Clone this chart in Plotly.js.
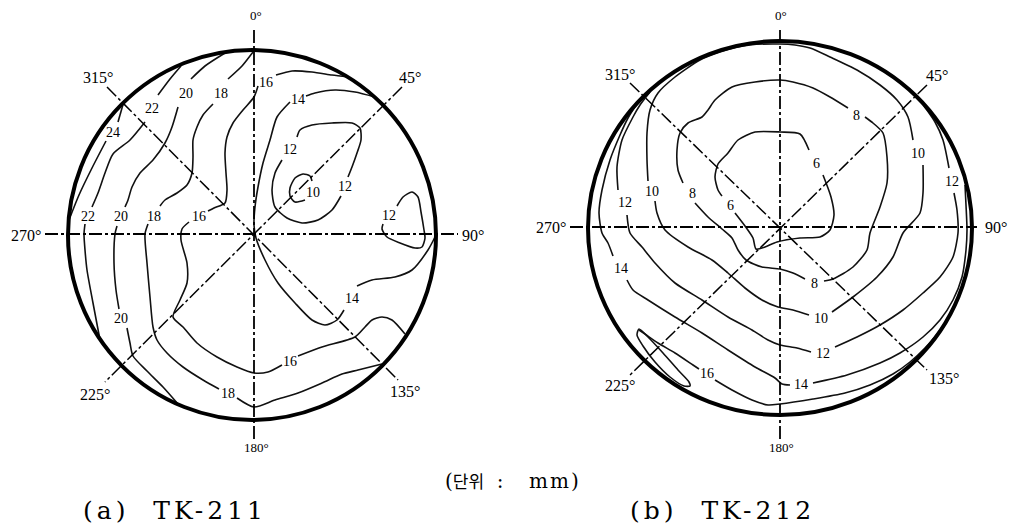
<!DOCTYPE html>
<html><head><meta charset="utf-8">
<script src="https://cdn.plot.ly/plotly-3.0.1.min.js"></script>
<style>html,body{margin:0;padding:0;background:#fff}#chart{width:1014px;height:525px}</style>
</head><body><div id="chart"></div>
<script>
// ---- DATA: contour lines ([x,y]; null = gap where a label sits) ----
// TK-211
const tk211_c24 = [[124,101],[118,122],null,[106,141],[92,168],[79,195],[69,220]];
const tk211_c22 = [[181,66],[170,79],[158,95],null,[145,122],[130,140],[113,154],[105,173],[98,193],[92,207],null,[85,224],[84,234],[85,250],[87,270],[93,303],[100,340]];
const tk211_c20 = [[225,53],[205,66],[191,79],null,[178,107],[172,127],[165,143],[153,160],[140,173],[132,187],[128,200],[125,207],null,[117,226],[115,234],[114,263],[116,290],[119,309],null,[127,328],[130,343],[133,356],[147,371],[163,387],[178,404]];
const tk211_c18 = [[253,52],[242,66],[228,79],null,[213,104],[203,115],[197,127],[193,140],[193,157],[192,173],[187,185],[177,193],[165,200],[160,206],null,[148,224],[145,234],[147,263],[150,297],[153,327],[157,340],[167,353],[183,367],[203,380],[219,389],null,[237,398],[254,407],[275,400],[298,393],[322,383],[342,374],[358,370],[382,364]];
const tk211_c16 = [[348,77],[332,75],[312,72],[292,71],[276,75],null,[258,86],[254,97],[243,110],[233,123],[227,137],[225,153],[226,173],[227,190],[225,203],[214,208],[208,211],null,[189,222],[182,229],[181,240],[187,263],[187,283],[180,300],[173,317],[183,327],[197,343],[217,357],[237,367],[254,373],[268,372],[282,365],null,[298,356],[322,347],[355,337],[365,327],[372,320],[382,317],[392,320],[405,334]];
const tk211_c14 = [[375,97],[355,92],[335,90],[315,93],[306,96],null,[290,102],[277,117],[270,140],[263,163],[258,187],[255,207],[254,225],[256,238],[265,260],[278,283],[295,303],[312,320],[325,325],[337,320],[344,310],null,[357,286],[372,280],[395,277],[412,270],[428,250],[436,235]];
const tk211_c12a = [[297,137],[300,130],[312,125],[332,123],[352,123],[360,128],[361,140],[357,153],[352,167],[348,177],null,[341,196],[332,210],[318,220],[302,223],[287,218],[275,207],[272,190],[275,173],[282,160]];
const tk211_c10 = [[312,181],[310,176],[303,174],[295,178],[290,188],[290,196],[295,202],[305,200]];
const tk211_c12b = [[397,206],[403,197],[412,192],[418,197],[421,212],[424,230],[425,238],[422,247],[415,248],[400,243],[387,237],[382,229],[383,224]];
const tk211_labels = [[113,132,'24'],[152,108,'22'],[186,93,'20'],[221,93,'18'],[266,82,'16'],[298,99,'14'],[290,149,'12'],[345,186,'12'],[313,192,'10'],[389,215,'12'],[88,216,'22'],[121,216,'20'],[154,216,'18'],[199,216,'16'],[121,318,'20'],[228,393,'18'],[290,361,'16'],[352,298,'14']];

// TK-212
const tk212_c6 = [[735,213],[745,226],[753,238],[756,249],[765,247],[777,242],[800,238],[820,237],[830,230],[834,215],[831,197],[823,175],null,[809,150],[800,134],[780,132],[755,132],[738,140],[728,153],[718,164],[715,177],[718,190],[722,196]];
const tk212_c8 = [[695,203],[708,217],[722,229],[732,238],[738,250],[746,260],[762,267],[780,269],[793,273],[805,279],null,[824,281],[833,279],[853,267],[867,250],[870,233],[880,207],[887,183],[887,157],[883,133],[873,123],[865,117],null,[848,108],[830,97],[813,88],[793,82],[780,80],[755,82],[732,87],[715,100],[708,110],[702,117],[688,123],[680,133],[677,150],[678,170],[683,183]];
const tk212_c10 = [[655,201],[657,213],[665,230],[688,247],[712,260],[728,273],[745,288],[762,300],[778,307],[793,310],[809,315],null,[832,312],[853,297],[877,277],[893,257],[903,233],[920,213],[923,193],[923,165],null,[913,140],[908,117],[897,100],[880,85],[857,70],[830,57],[810,48],[795,45],[780,44],[750,45],[720,52],[700,60],[675,77],[658,93],[650,110],[647,133],[647,160],[648,181]];
const tk212_c12 = [[650,92],[640,105],[633,117],[622,140],[617,167],[618,190],null,[627,215],[630,233],[642,247],[655,263],[675,283],[702,300],[728,317],[752,330],[768,340],[780,345],[797,348],[811,352],null,[835,347],[857,337],[880,325],[903,310],[923,293],[940,277],[953,257],[958,233],[957,210],[954,193],null,[949,168],[943,140],[935,122],[924,106]];
const tk212_c14 = [[638,102],[628,118],[620,135],[610,160],[602,190],[599,213],[602,233],[608,243],[613,256],null,[627,280],[633,290],[648,300],[675,317],[702,333],[728,350],[755,367],[775,378],[782,384],[790,385],null,[813,383],[847,375],[880,363],[900,353],[923,337],[940,320],[953,300],[962,277],[966,250],[967,230],[966,205],[965,185]];
const tk212_c16 = [[639,330],[645,334],[658,343],[675,353],[693,365],[699,369],null,[715,380],[732,390],[752,400],[768,405],[780,404],[813,399],[845,393],[870,385],[893,374],[910,362],[925,348],[938,333],[946,322]];
const tk212_c16loop = [[639,329],[648,337],[663,353],[678,370],[689,382],[690,386],[684,386],[670,377],[655,362],[643,346],[637,335],[639,329]];
const tk212_labels = [[625,202,'12'],[652,191,'10'],[692,193,'8'],[730,205,'6'],[856,115,'8'],[816,163,'6'],[918,153,'10'],[952,181,'12'],[621,268,'14'],[707,373,'16'],[814,283,'8'],[821,318,'10'],[823,353,'12'],[801,384,'14']];

const angleLabels = ['0°','45°','90°','135°','180°','225°','270°','315°'];
const captions = ['(a) TK-211','(b) TK-212'];
const unitParts = ['(', '단위', ':', 'mm', ')'];

// ---- LAYOUT helpers ----
const tanks = [
  {x0:68,x1:436,y0:50,y1:420, cx:254, cy:234,
   v:[30,440], h:[45,458], d1:[[107,87],[398,380]], d2:[[402,87],[105,382]],
   lab:[[256,15],[410,77],[473,235],[405,391],[256,447],[95,394],[26,235],[98,77]]},
  {x0:588,x1:972,y0:41,y1:415, cx:780, cy:227,
   v:[30,441], h:[570,977], d1:[[630,83],[927,370]], d2:[[927,85],[630,375]],
   lab:[[781,15],[937,75],[996,227],[944,378],[781,447],[620,385],[551,227],[620,74]]}
];

function toTrace(pts){
  const x=[],y=[];
  pts.forEach(p=>{ if(p===null){x.push(null);y.push(null);} else {x.push(p[0]);y.push(p[1]);} });
  return {type:'scatter',mode:'lines',x:x,y:y,connectgaps:false,hoverinfo:'skip',
    line:{color:'#111',width:1.6,shape:'spline',smoothing:0.7}};
}
const traces = [tk211_c24,tk211_c22,tk211_c20,tk211_c18,tk211_c16,tk211_c14,tk211_c12a,tk211_c10,tk211_c12b,
  tk212_c6,tk212_c8,tk212_c10,tk212_c12,tk212_c14,tk212_c16,tk212_c16loop].map(toTrace);

const dash = '13px,3px,3px,3px';
const shapes = [];
const annotations = [];
tanks.forEach(t=>{
  shapes.push({type:'circle',xref:'x',yref:'y',x0:t.x0,x1:t.x1,y0:t.y0,y1:t.y1,line:{color:'#000',width:4}});
  shapes.push({type:'line',xref:'x',yref:'y',x0:t.cx,x1:t.cx,y0:t.v[0],y1:t.v[1],line:{color:'#000',width:1.8,dash:dash}});
  shapes.push({type:'line',xref:'x',yref:'y',x0:t.h[0],x1:t.h[1],y0:t.cy,y1:t.cy,line:{color:'#000',width:1.8,dash:dash}});
  [t.d1,t.d2].forEach(d=>shapes.push({type:'line',xref:'x',yref:'y',x0:d[0][0],y0:d[0][1],x1:d[1][0],y1:d[1][1],line:{color:'#000',width:1.5,dash:dash}}));
  t.lab.forEach((p,i)=>{
    const small = (i===0||i===4);
    annotations.push({x:p[0],y:p[1],xref:'x',yref:'y',text:angleLabels[i],showarrow:false,
      font:{family:'Liberation Serif, DejaVu Serif, serif',size:small?13:16,color:'#000'}});
  });
});
tk211_labels.concat(tk212_labels).forEach(l=>{
  annotations.push({x:l[0],y:l[1],xref:'x',yref:'y',showarrow:false,text:l[2],
    font:{family:'Liberation Serif, serif',size:14,color:'#000'}});
});
const nb = n => '\u00a0'.repeat(n);
annotations.push({x:512,y:481,xref:'x',yref:'y',showarrow:false,
  text:unitParts[0]+'<span style="font-size:17px">'+unitParts[1]+'</span>'+nb(2)+unitParts[2]+nb(4)+
       '<span style="letter-spacing:2px">'+unitParts[3]+'</span>'+unitParts[4],
  font:{family:'DejaVu Serif, Noto Sans CJK KR, serif',size:20,color:'#000'}});
annotations.push({x:175,y:510,xref:'x',yref:'y',showarrow:false,
  text:'<span style="letter-spacing:4px">'+captions[0].replace(' ', nb(2))+'</span>',
  font:{family:'DejaVu Serif, serif',size:25,color:'#000'}});
annotations.push({x:722,y:510,xref:'x',yref:'y',showarrow:false,
  text:'<span style="letter-spacing:4px">'+captions[1].replace(' ', nb(2))+'</span>',
  font:{family:'DejaVu Serif, serif',size:25,color:'#000'}});

const layout = {
  width:1014,height:525,margin:{l:0,r:0,t:0,b:0},
  paper_bgcolor:'#fff',plot_bgcolor:'#fff',showlegend:false,
  xaxis:{range:[0,1014],visible:false,fixedrange:true},
  yaxis:{range:[525,0],visible:false,fixedrange:true},
  shapes:shapes,annotations:annotations
};
Plotly.newPlot('chart',traces,layout,{staticPlot:true,displayModeBar:false});
</script></body></html>
